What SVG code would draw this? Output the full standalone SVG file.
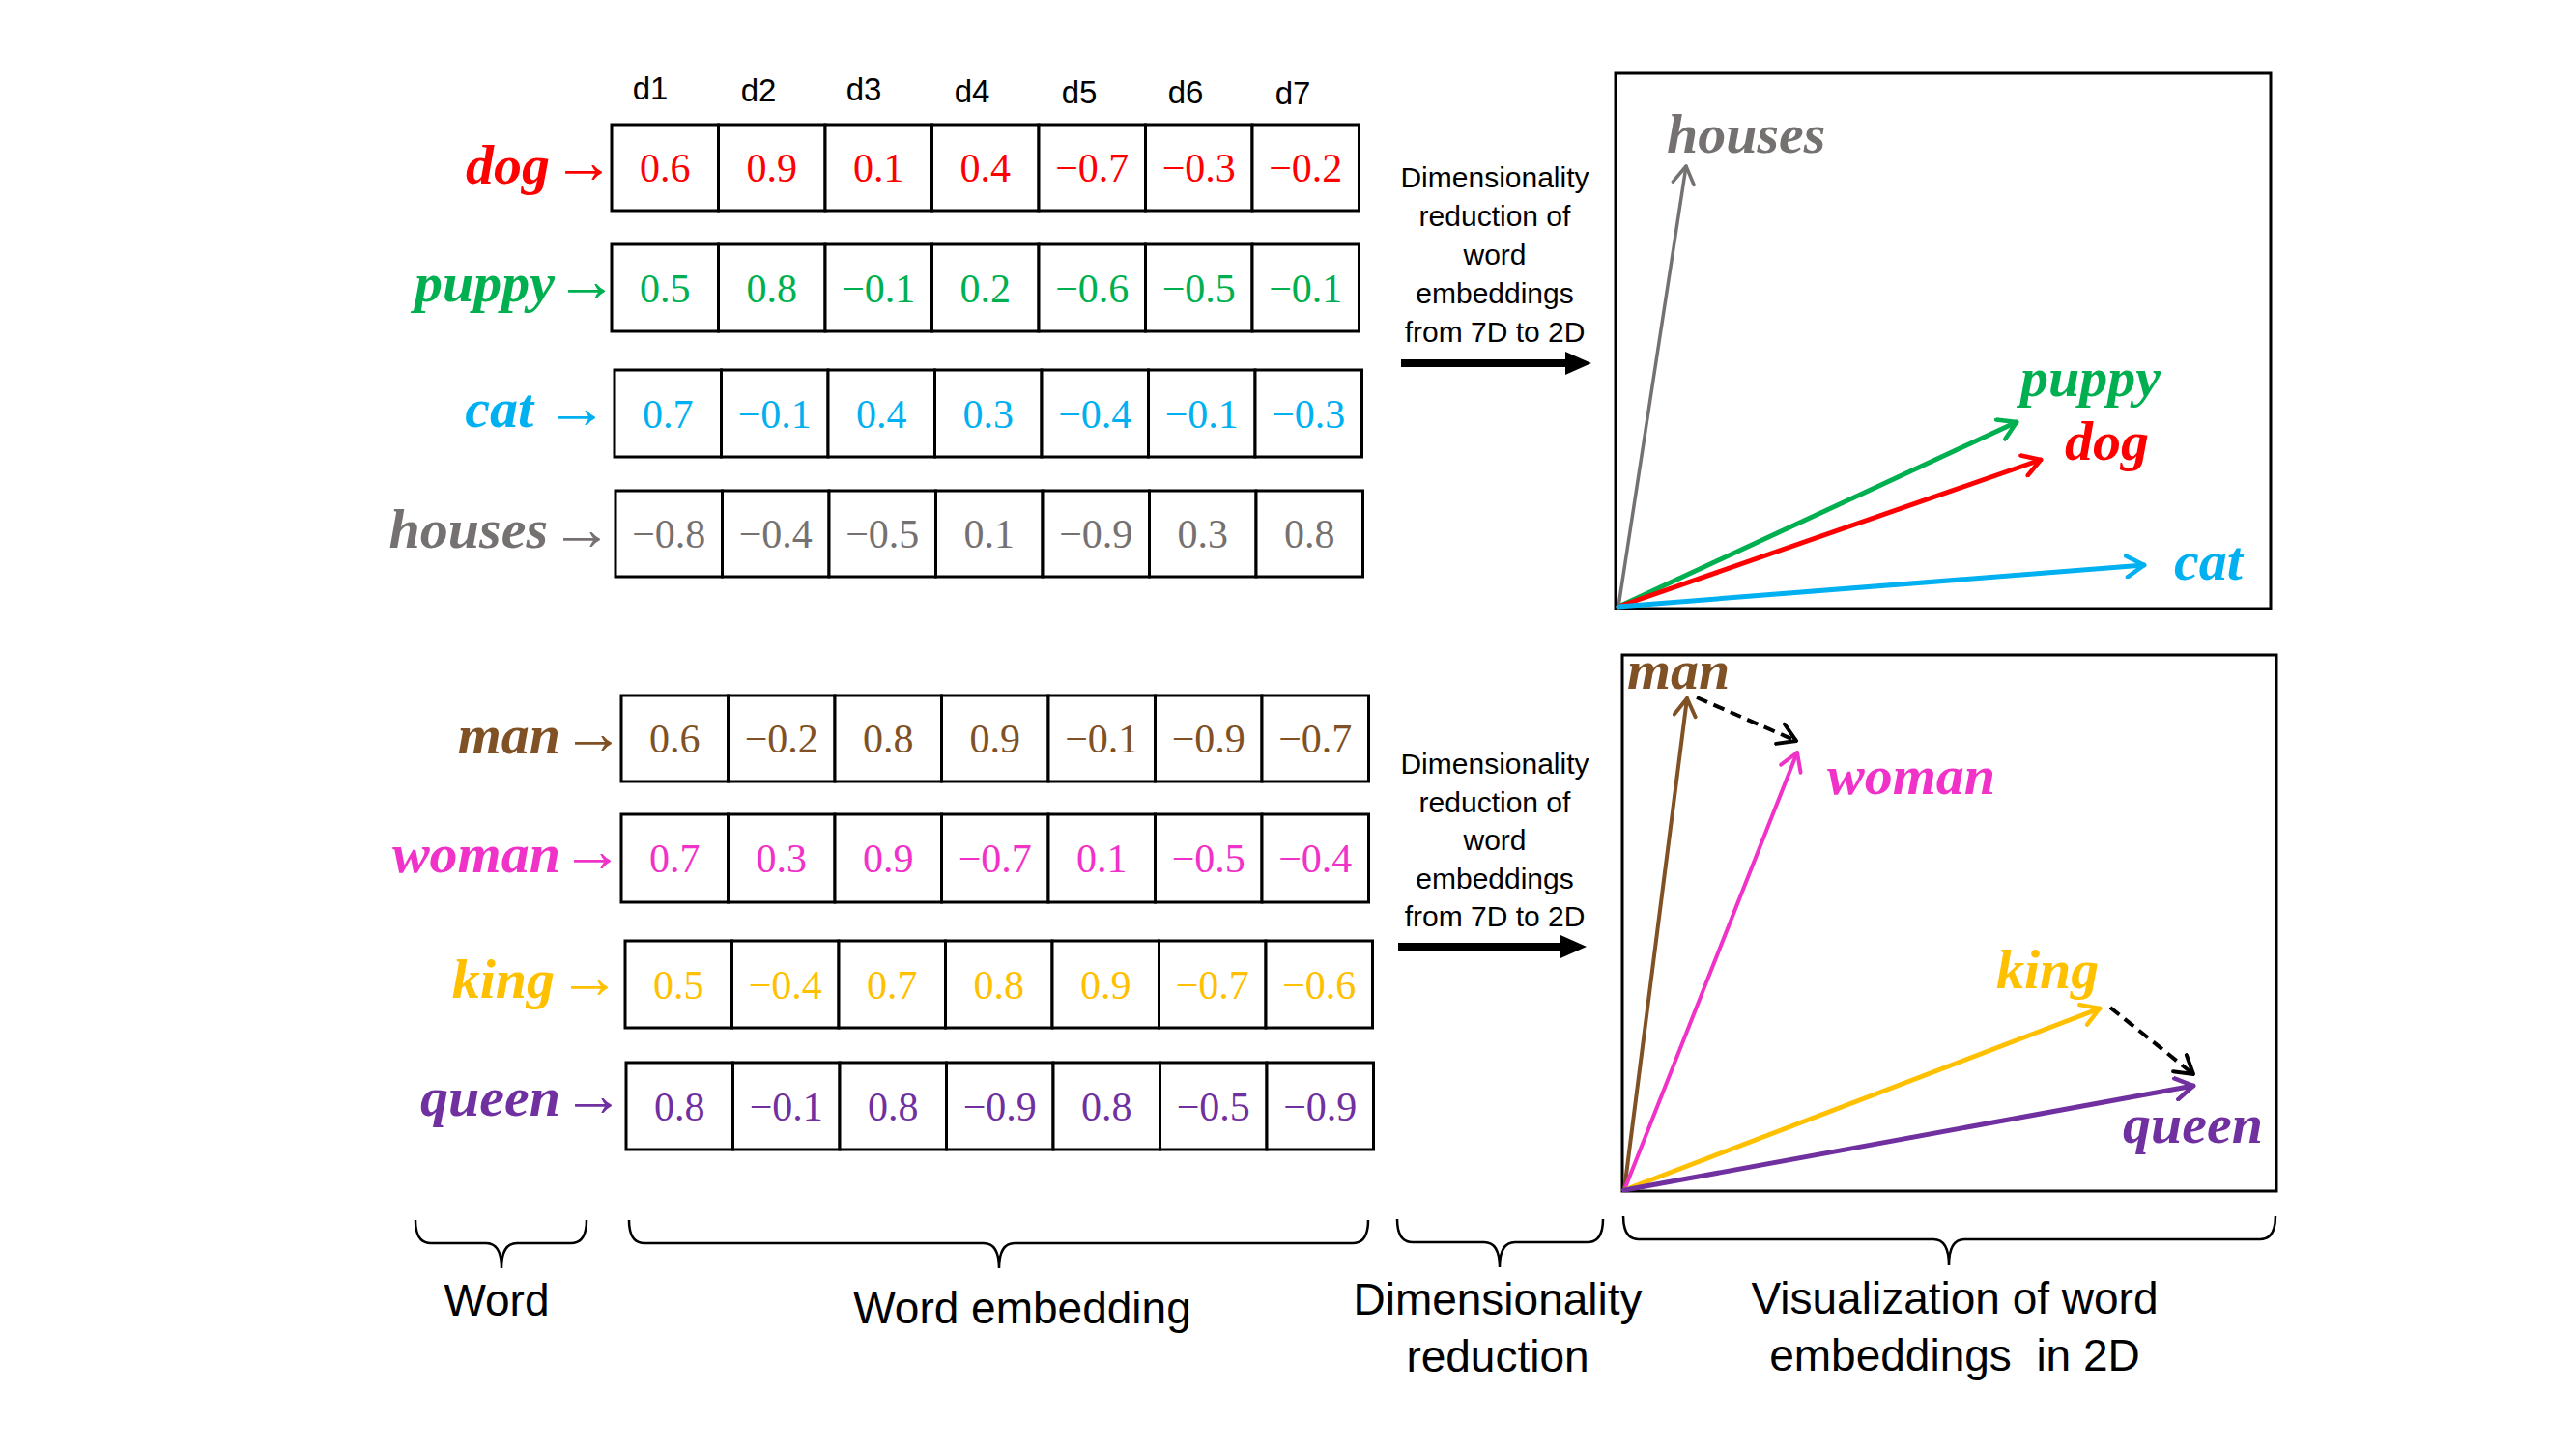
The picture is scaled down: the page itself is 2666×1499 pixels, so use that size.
<svg xmlns="http://www.w3.org/2000/svg" width="2666" height="1499" viewBox="0 0 2666 1499">
<style>
.cell{fill:#fff;stroke:#000;stroke-width:3}
.num{font-family:"Liberation Serif",serif;font-size:42px;text-anchor:middle}
.word{font-family:"Liberation Serif",serif;font-size:58px;font-weight:bold;font-style:italic}
.wl{text-anchor:end}
.arr{font-family:"Liberation Serif",serif;font-size:64px;text-anchor:middle}
.dl{font-family:"Liberation Sans",Arial,sans-serif;font-size:33px;text-anchor:middle;fill:#000}
.dr{font-family:"Liberation Sans",Arial,sans-serif;font-size:30px;text-anchor:middle;fill:#000}
.cap{font-family:"Liberation Sans",Arial,sans-serif;font-size:46px;text-anchor:middle;fill:#000}
.panel{fill:#fff;stroke:#000;stroke-width:3}
.vec{fill:none;stroke-linecap:round}
.brace{fill:none;stroke:#000;stroke-width:2.5}
.c-dog{fill:#ff0000}.c-puppy{fill:#00b050}.c-cat{fill:#00b0f0}.c-houses{fill:#767171}
.c-man{fill:#7f5125}.c-woman{fill:#f032c8}.c-king{fill:#ffc000}.c-queen{fill:#7030a0}
</style>
<defs>
<marker id="m-grey" markerUnits="userSpaceOnUse" markerWidth="26" markerHeight="26" viewBox="0 0 26 26" refX="23" refY="13" orient="auto"><path d="M5,2 L23,13 L5,24" fill="none" stroke="#767171" stroke-width="3.5" stroke-linecap="round" stroke-linejoin="round"/></marker>
<marker id="m-green" markerUnits="userSpaceOnUse" markerWidth="26" markerHeight="26" viewBox="0 0 26 26" refX="23" refY="13" orient="auto"><path d="M5,2 L23,13 L5,24" fill="none" stroke="#00b050" stroke-width="4.5" stroke-linecap="round" stroke-linejoin="round"/></marker>
<marker id="m-red" markerUnits="userSpaceOnUse" markerWidth="26" markerHeight="26" viewBox="0 0 26 26" refX="23" refY="13" orient="auto"><path d="M5,2 L23,13 L5,24" fill="none" stroke="#ff0000" stroke-width="4.5" stroke-linecap="round" stroke-linejoin="round"/></marker>
<marker id="m-blue" markerUnits="userSpaceOnUse" markerWidth="26" markerHeight="26" viewBox="0 0 26 26" refX="23" refY="13" orient="auto"><path d="M5,2 L23,13 L5,24" fill="none" stroke="#00b0f0" stroke-width="4.5" stroke-linecap="round" stroke-linejoin="round"/></marker>
<marker id="m-brown" markerUnits="userSpaceOnUse" markerWidth="26" markerHeight="26" viewBox="0 0 26 26" refX="23" refY="13" orient="auto"><path d="M5,2 L23,13 L5,24" fill="none" stroke="#7f5125" stroke-width="4" stroke-linecap="round" stroke-linejoin="round"/></marker>
<marker id="m-magenta" markerUnits="userSpaceOnUse" markerWidth="26" markerHeight="26" viewBox="0 0 26 26" refX="23" refY="13" orient="auto"><path d="M5,2 L23,13 L5,24" fill="none" stroke="#f032c8" stroke-width="4" stroke-linecap="round" stroke-linejoin="round"/></marker>
<marker id="m-gold" markerUnits="userSpaceOnUse" markerWidth="26" markerHeight="26" viewBox="0 0 26 26" refX="23" refY="13" orient="auto"><path d="M5,2 L23,13 L5,24" fill="none" stroke="#ffc000" stroke-width="4.5" stroke-linecap="round" stroke-linejoin="round"/></marker>
<marker id="m-purple" markerUnits="userSpaceOnUse" markerWidth="26" markerHeight="26" viewBox="0 0 26 26" refX="23" refY="13" orient="auto"><path d="M5,2 L23,13 L5,24" fill="none" stroke="#7030a0" stroke-width="4.5" stroke-linecap="round" stroke-linejoin="round"/></marker>
<marker id="m-black" markerUnits="userSpaceOnUse" markerWidth="26" markerHeight="26" viewBox="0 0 26 26" refX="23" refY="13" orient="auto"><path d="M5,2 L23,13 L5,24" fill="none" stroke="#000" stroke-width="4" stroke-linecap="round" stroke-linejoin="round"/></marker>
</defs>
<rect width="2666" height="1499" fill="#fff"/>

<g id="dim-labels">
<text class="dl" x="673" y="103">d1</text>
<text class="dl" x="785" y="105">d2</text>
<text class="dl" x="894" y="104">d3</text>
<text class="dl" x="1006" y="106">d4</text>
<text class="dl" x="1117" y="107">d5</text>
<text class="dl" x="1227" y="107">d6</text>
<text class="dl" x="1338" y="108">d7</text>
</g>

<g id="row-dog">
<text class="word wl c-dog" x="569" y="190">dog</text>
<text class="arr c-dog" x="604" y="189">→</text>
<g transform="translate(633,129)">
<rect class="cell" x="0" y="0" width="110.5" height="89"/><rect class="cell" x="110.5" y="0" width="110.5" height="89"/><rect class="cell" x="221" y="0" width="110.5" height="89"/><rect class="cell" x="331.5" y="0" width="110.5" height="89"/><rect class="cell" x="442" y="0" width="110.5" height="89"/><rect class="cell" x="552.5" y="0" width="110.5" height="89"/><rect class="cell" x="663" y="0" width="110.5" height="89"/>
<g class="num c-dog"><text x="55.25" y="59">0.6</text><text x="165.75" y="59">0.9</text><text x="276.25" y="59">0.1</text><text x="386.75" y="59">0.4</text><text x="497.25" y="59">−0.7</text><text x="607.75" y="59">−0.3</text><text x="718.25" y="59">−0.2</text></g>
</g>
</g>

<g id="row-puppy">
<text class="word wl c-puppy" x="574" y="312">puppy</text>
<text class="arr c-puppy" x="607" y="312">→</text>
<g transform="translate(633,253)">
<rect class="cell" x="0" y="0" width="110.5" height="90"/><rect class="cell" x="110.5" y="0" width="110.5" height="90"/><rect class="cell" x="221" y="0" width="110.5" height="90"/><rect class="cell" x="331.5" y="0" width="110.5" height="90"/><rect class="cell" x="442" y="0" width="110.5" height="90"/><rect class="cell" x="552.5" y="0" width="110.5" height="90"/><rect class="cell" x="663" y="0" width="110.5" height="90"/>
<g class="num c-puppy"><text x="55.25" y="59.5">0.5</text><text x="165.75" y="59.5">0.8</text><text x="276.25" y="59.5">−0.1</text><text x="386.75" y="59.5">0.2</text><text x="497.25" y="59.5">−0.6</text><text x="607.75" y="59.5">−0.5</text><text x="718.25" y="59.5">−0.1</text></g>
</g>
</g>

<g id="row-cat">
<text class="word wl c-cat" x="552" y="442">cat</text>
<text class="arr c-cat" x="597" y="443">→</text>
<g transform="translate(636,383)">
<rect class="cell" x="0" y="0" width="110.5" height="90"/><rect class="cell" x="110.5" y="0" width="110.5" height="90"/><rect class="cell" x="221" y="0" width="110.5" height="90"/><rect class="cell" x="331.5" y="0" width="110.5" height="90"/><rect class="cell" x="442" y="0" width="110.5" height="90"/><rect class="cell" x="552.5" y="0" width="110.5" height="90"/><rect class="cell" x="663" y="0" width="110.5" height="90"/>
<g class="num c-cat"><text x="55.25" y="59.5">0.7</text><text x="165.75" y="59.5">−0.1</text><text x="276.25" y="59.5">0.4</text><text x="386.75" y="59.5">0.3</text><text x="497.25" y="59.5">−0.4</text><text x="607.75" y="59.5">−0.1</text><text x="718.25" y="59.5">−0.3</text></g>
</g>
</g>

<g id="row-houses">
<text class="word wl c-houses" x="567" y="567">houses</text>
<text class="arr c-houses" x="602" y="569">→</text>
<g transform="translate(637,508)">
<rect class="cell" x="0" y="0" width="110.5" height="89"/><rect class="cell" x="110.5" y="0" width="110.5" height="89"/><rect class="cell" x="221" y="0" width="110.5" height="89"/><rect class="cell" x="331.5" y="0" width="110.5" height="89"/><rect class="cell" x="442" y="0" width="110.5" height="89"/><rect class="cell" x="552.5" y="0" width="110.5" height="89"/><rect class="cell" x="663" y="0" width="110.5" height="89"/>
<g class="num c-houses"><text x="55.25" y="59">−0.8</text><text x="165.75" y="59">−0.4</text><text x="276.25" y="59">−0.5</text><text x="386.75" y="59">0.1</text><text x="497.25" y="59">−0.9</text><text x="607.75" y="59">0.3</text><text x="718.25" y="59">0.8</text></g>
</g>
</g>

<g id="row-man">
<text class="word wl c-man" x="580" y="780">man</text>
<text class="arr c-man" x="614" y="780">→</text>
<g transform="translate(643,720)">
<rect class="cell" x="0" y="0" width="110.5" height="89"/><rect class="cell" x="110.5" y="0" width="110.5" height="89"/><rect class="cell" x="221" y="0" width="110.5" height="89"/><rect class="cell" x="331.5" y="0" width="110.5" height="89"/><rect class="cell" x="442" y="0" width="110.5" height="89"/><rect class="cell" x="552.5" y="0" width="110.5" height="89"/><rect class="cell" x="663" y="0" width="110.5" height="89"/>
<g class="num c-man"><text x="55.25" y="59">0.6</text><text x="165.75" y="59">−0.2</text><text x="276.25" y="59">0.8</text><text x="386.75" y="59">0.9</text><text x="497.25" y="59">−0.1</text><text x="607.75" y="59">−0.9</text><text x="718.25" y="59">−0.7</text></g>
</g>
</g>

<g id="row-woman">
<text class="word wl c-woman" x="580" y="903">woman</text>
<text class="arr c-woman" x="613" y="902">→</text>
<g transform="translate(643,843)">
<rect class="cell" x="0" y="0" width="110.5" height="91"/><rect class="cell" x="110.5" y="0" width="110.5" height="91"/><rect class="cell" x="221" y="0" width="110.5" height="91"/><rect class="cell" x="331.5" y="0" width="110.5" height="91"/><rect class="cell" x="442" y="0" width="110.5" height="91"/><rect class="cell" x="552.5" y="0" width="110.5" height="91"/><rect class="cell" x="663" y="0" width="110.5" height="91"/>
<g class="num c-woman"><text x="55.25" y="60">0.7</text><text x="165.75" y="60">0.3</text><text x="276.25" y="60">0.9</text><text x="386.75" y="60">−0.7</text><text x="497.25" y="60">0.1</text><text x="607.75" y="60">−0.5</text><text x="718.25" y="60">−0.4</text></g>
</g>
</g>

<g id="row-king">
<text class="word wl c-king" x="574" y="1033">king</text>
<text class="arr c-king" x="610" y="1033">→</text>
<g transform="translate(647,974)">
<rect class="cell" x="0" y="0" width="110.5" height="90"/><rect class="cell" x="110.5" y="0" width="110.5" height="90"/><rect class="cell" x="221" y="0" width="110.5" height="90"/><rect class="cell" x="331.5" y="0" width="110.5" height="90"/><rect class="cell" x="442" y="0" width="110.5" height="90"/><rect class="cell" x="552.5" y="0" width="110.5" height="90"/><rect class="cell" x="663" y="0" width="110.5" height="90"/>
<g class="num c-king"><text x="55.25" y="59.5">0.5</text><text x="165.75" y="59.5">−0.4</text><text x="276.25" y="59.5">0.7</text><text x="386.75" y="59.5">0.8</text><text x="497.25" y="59.5">0.9</text><text x="607.75" y="59.5">−0.7</text><text x="718.25" y="59.5">−0.6</text></g>
</g>
</g>

<g id="row-queen">
<text class="word wl c-queen" x="580" y="1155">queen</text>
<text class="arr c-queen" x="614" y="1155">→</text>
<g transform="translate(648,1100)">
<rect class="cell" x="0" y="0" width="110.5" height="90"/><rect class="cell" x="110.5" y="0" width="110.5" height="90"/><rect class="cell" x="221" y="0" width="110.5" height="90"/><rect class="cell" x="331.5" y="0" width="110.5" height="90"/><rect class="cell" x="442" y="0" width="110.5" height="90"/><rect class="cell" x="552.5" y="0" width="110.5" height="90"/><rect class="cell" x="663" y="0" width="110.5" height="90"/>
<g class="num c-queen"><text x="55.25" y="59.5">0.8</text><text x="165.75" y="59.5">−0.1</text><text x="276.25" y="59.5">0.8</text><text x="386.75" y="59.5">−0.9</text><text x="497.25" y="59.5">0.8</text><text x="607.75" y="59.5">−0.5</text><text x="718.25" y="59.5">−0.9</text></g>
</g>
</g>

<g id="reduction-top">
<text class="dr" x="1547" y="194">Dimensionality</text>
<text class="dr" x="1547" y="234">reduction of</text>
<text class="dr" x="1547" y="274">word</text>
<text class="dr" x="1547" y="314">embeddings</text>
<text class="dr" x="1547" y="354">from 7D to 2D</text>
<rect x="1450" y="372" width="174" height="8" fill="#000"/>
<polygon points="1620,364 1647,376 1620,388" fill="#000"/>
</g>

<g id="reduction-bottom">
<text class="dr" x="1547" y="801">Dimensionality</text>
<text class="dr" x="1547" y="841">reduction of</text>
<text class="dr" x="1547" y="880">word</text>
<text class="dr" x="1547" y="920">embeddings</text>
<text class="dr" x="1547" y="959">from 7D to 2D</text>
<rect x="1447" y="976" width="172" height="8" fill="#000"/>
<polygon points="1615,968 1642,980 1615,992" fill="#000"/>
</g>

<g id="plot-top">
<rect class="panel" x="1672" y="76" width="678" height="554"/>
<text class="word c-houses" x="1725" y="158">houses</text>
<text class="word c-puppy" x="2091" y="410">puppy</text>
<text class="word c-dog" x="2137" y="476">dog</text>
<text class="word c-cat" x="2250" y="600">cat</text>
</g>

<g id="plot-bottom">
<rect class="panel" x="1679" y="678" width="677" height="555"/>
<text class="word c-man" x="1684" y="713">man</text>
<text class="word c-woman" x="1891" y="822">woman</text>
<text class="word c-king" x="2066" y="1023">king</text>
<text class="word c-queen" x="2197" y="1183">queen</text>
</g>

<g id="connectors">
<line class="vec" x1="1675" y1="628" x2="1745" y2="172" stroke="#767171" stroke-width="3.5" marker-end="url(#m-grey)"/>
<line class="vec" x1="1675" y1="628" x2="2087" y2="437" stroke="#00b050" stroke-width="5" marker-end="url(#m-green)"/>
<line class="vec" x1="1675" y1="628" x2="2112" y2="476" stroke="#ff0000" stroke-width="5" marker-end="url(#m-red)"/>
<line class="vec" x1="1675" y1="628" x2="2219" y2="585" stroke="#00b0f0" stroke-width="5" marker-end="url(#m-blue)"/>
<line class="vec" x1="1681" y1="1232" x2="1746" y2="723" stroke="#7f5125" stroke-width="4" marker-end="url(#m-brown)"/>
<line class="vec" x1="1681" y1="1232" x2="1860" y2="779" stroke="#f032c8" stroke-width="4" marker-end="url(#m-magenta)"/>
<line class="vec" x1="1681" y1="1232" x2="2173" y2="1044" stroke="#ffc000" stroke-width="5" marker-end="url(#m-gold)"/>
<line class="vec" x1="1681" y1="1232" x2="2270" y2="1124" stroke="#7030a0" stroke-width="5" marker-end="url(#m-purple)"/>
<line x1="1756" y1="722" x2="1859" y2="767" stroke="#000" stroke-width="4" stroke-dasharray="12 7" marker-end="url(#m-black)"/>
<line x1="2184" y1="1043" x2="2270" y2="1112" stroke="#000" stroke-width="4" stroke-dasharray="12 7" marker-end="url(#m-black)"/>
</g>

<g id="braces">
<path class="brace" d="M430,1263 Q430,1287 446,1287 L503,1287 Q519,1287 519,1313 Q519,1287 535,1287 L591,1287 Q607,1287 607,1263"/>
<path class="brace" d="M651,1263 Q651,1287 667,1287 L1018,1287 Q1034,1287 1034,1313 Q1034,1287 1050,1287 L1400,1287 Q1416,1287 1416,1263"/>
<path class="brace" d="M1446,1262 Q1446,1286 1462,1286 L1536,1286 Q1552,1286 1552,1312 Q1552,1286 1568,1286 L1643,1286 Q1659,1286 1659,1262"/>
<path class="brace" d="M1680,1259 Q1680,1283 1696,1283 L2001,1283 Q2017,1283 2017,1310 Q2017,1283 2033,1283 L2339,1283 Q2355,1283 2355,1259"/>
</g>

<g id="captions">
<text class="cap" x="514" y="1362">Word</text>
<text class="cap" x="1058" y="1370">Word embedding</text>
<text class="cap" x="1550" y="1361">Dimensionality</text>
<text class="cap" x="1550" y="1420">reduction</text>
<text class="cap" x="2023" y="1360">Visualization of word</text>
<text class="cap" x="2023" y="1419" xml:space="preserve">embeddings  in 2D</text>
</g>
</svg>
